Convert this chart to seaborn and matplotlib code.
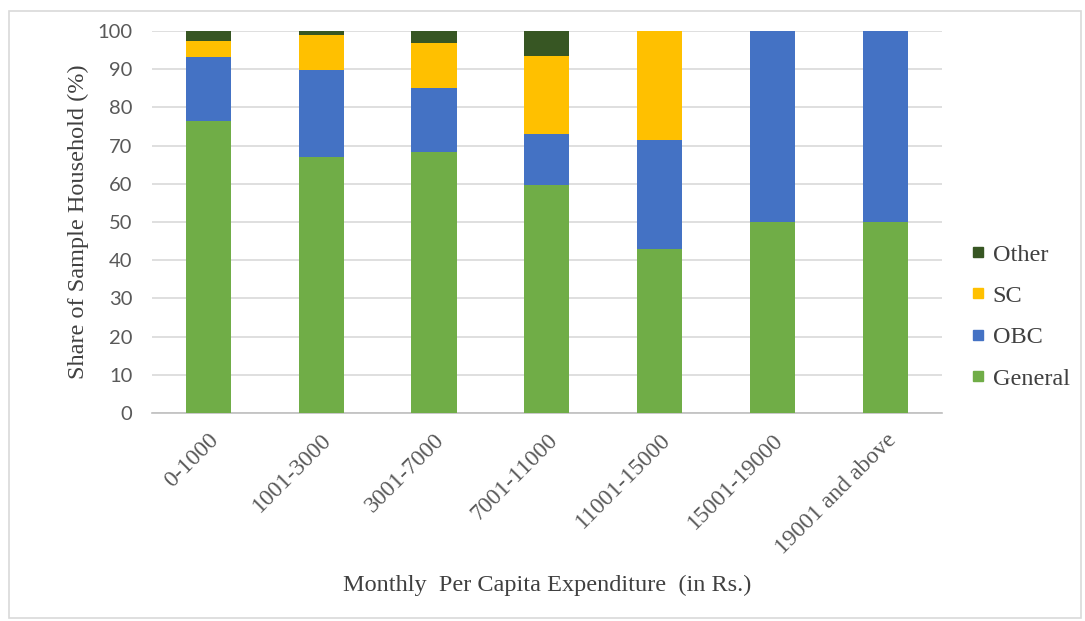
import matplotlib
matplotlib.use("Agg")
import matplotlib.pyplot as plt
import seaborn as sns
import numpy as np
import pandas as pd
from matplotlib.patches import Rectangle
from matplotlib.lines import Line2D

categories = ["0-1000", "1001-3000", "3001-7000", "7001-11000",
              "11001-15000", "15001-19000", "19001 and above"]
general = [76.5, 66.9, 68.2, 59.6, 42.9, 50.0, 50.0]
obc = [16.8, 22.9, 16.8, 13.4, 28.5, 50.0, 50.0]
sc = [4.0, 9.1, 11.8, 20.5, 28.6, 0.0, 0.0]
other = [2.7, 1.1, 3.2, 6.5, 0.0, 0.0, 0.0]

series_names = ["General", "OBC", "SC", "Other"]
colors = {"General": "#70AD47", "OBC": "#4472C4", "SC": "#FFC000", "Other": "#375623"}

sns.set_theme(style="white")
plt.rcParams["font.family"] = ["Liberation Serif", "DejaVu Serif"]

fig = plt.figure(figsize=(10.85, 6.21), dpi=100)
ax = fig.add_axes([0.140, 0.335, 0.728, 0.615])

vals = np.array([general, obc, sc, other])
cum = np.cumsum(vals, axis=0)

# draw from top of stack down so lower segments overlay upper cumulative bars
for i in range(len(series_names) - 1, -1, -1):
    df = pd.DataFrame({"cat": categories, "val": cum[i]})
    sns.barplot(data=df, x="cat", y="val", color=colors[series_names[i]],
                width=0.4, ax=ax, saturation=1, order=categories, zorder=3,
                linewidth=0, edgecolor="none")

ax.set_ylim(0, 100)
ax.set_xlim(-0.5, len(categories) - 0.5)
ax.set_yticks(range(0, 101, 10))
ax.yaxis.grid(True, color="#D9D9D9", linewidth=1.2, zorder=0)
ax.set_axisbelow(True)
for s in ["top", "right", "left"]:
    ax.spines[s].set_visible(False)
ax.spines["bottom"].set_color("#BFBFBF")
ax.spines["bottom"].set_linewidth(1.2)

ax.tick_params(axis="y", length=0, pad=14, labelsize=14.5, labelcolor="#595959")
for lbl in ax.get_yticklabels():
    lbl.set_fontfamily(["Lato", "DejaVu Sans"])

ax.set_xticks(range(len(categories)))
ax.set_xticklabels(categories, rotation=45, ha="right", rotation_mode="anchor",
                   fontsize=17, color="#595959")
ax.tick_params(axis="x", which="major", length=0, pad=12)
ax.set_xticks(np.arange(-0.5, len(categories), 1.0), minor=True)
ax.tick_params(axis="x", which="minor", length=8, color="#BFBFBF", width=1.2)

ax.set_xlabel("Monthly  Per Capita Expenditure  (in Rs.)", fontsize=17.5,
              color="#404040")
ax.xaxis.set_label_coords(0.5, -0.424)
ax.set_ylabel("Share of Sample Household (%)", fontsize=17.5, color="#404040",
              labelpad=6)

handles = [Line2D([0], [0], marker="s", linestyle="none", markersize=7.5,
                  markerfacecolor=colors[n], markeredgecolor=colors[n])
           for n in ["Other", "SC", "OBC", "General"]]
leg = fig.legend(handles, ["Other", "SC", "OBC", "General"],
                 loc="center left", bbox_to_anchor=(0.868, 0.49),
                 frameon=False, fontsize=17.5, handletextpad=0.0,
                 labelspacing=0.8, labelcolor="#404040", handlelength=1.2)

fig.patches.append(Rectangle((0.008, 0.005), 0.988, 0.978, transform=fig.transFigure,
                             fill=False, edgecolor="#D9D9D9", linewidth=1.2))

fig.savefig("out.png", dpi=100, facecolor="white")
